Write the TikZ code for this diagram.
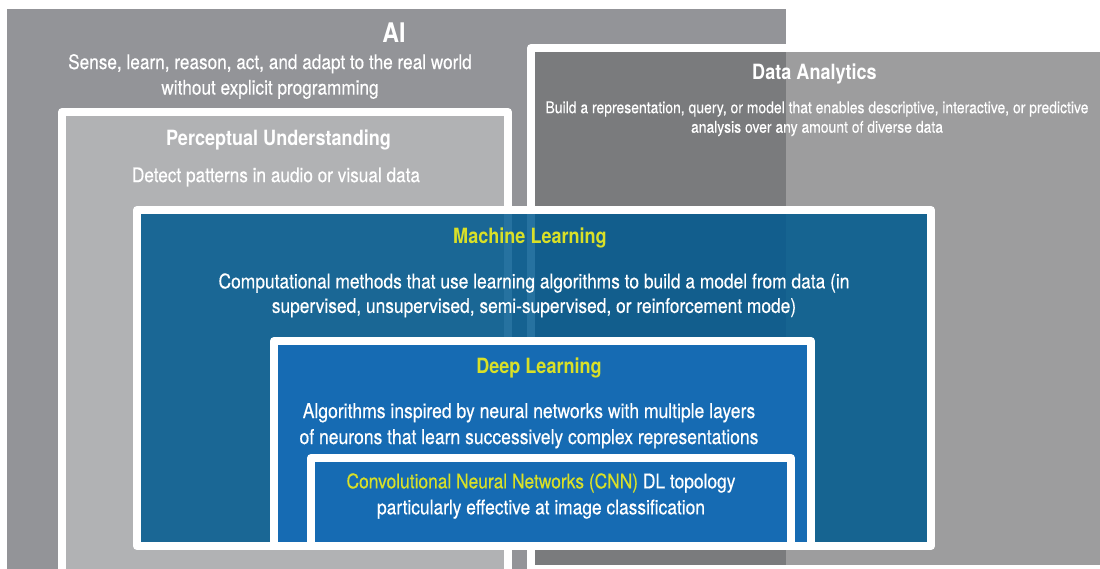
\documentclass[tikz,border=0pt]{standalone}
\usepackage{fontspec}
\setmainfont{TeX Gyre Heros}[FakeStretch=0.86, UprightFeatures={FakeBold=0.35}]
\definecolor{aigray}{RGB}{147,148,152}
\definecolor{percgray}{RGB}{177,178,180}
\definecolor{dagray}{RGB}{112,112,114}
\definecolor{mlblue}{RGB}{0,90,144}
\definecolor{dlblue}{RGB}{22,107,179}
\definecolor{ylw}{RGB}{217,224,40}
\begin{document}
\begin{tikzpicture}[x=1pt,y=-1pt,
  panel/.style={draw=white, line width=8pt, line join=round},
  ttl/.style={text=white, font=\bfseries\fontsize{21}{25}\selectfont, align=center, inner sep=0pt},
  bodytxt/.style={text=white, font=\fontsize{20.2}{25}\selectfont, align=center, inner sep=0pt}
]
\useasboundingbox (0,0) rectangle (1100,569);
% AI area
\fill[aigray] (7,9) rectangle (786,585);
% Perceptual Understanding
\draw[panel, fill=percgray] (62,112) rectangle (508,575);
% Data Analytics (translucent)
\draw[panel, fill=dagray, fill opacity=0.685] (531,48) rectangle (1110,569);
% Machine Learning (translucent)
\draw[panel, fill=mlblue, fill opacity=0.85] (137,210) rectangle (931,546);
% Deep Learning
\draw[panel, fill=dlblue] (274,341) rectangle (811,546);
% CNN
\draw[panel, fill=dlblue] (311,458) rectangle (791,546);

\node[text=white, font=\bfseries\fontsize{27}{30}\selectfont, inner sep=0pt] (aiT) at (394,32.5) {AI};
\node[bodytxt, font=\fontsize{20}{25.5}\selectfont] (aiB) at (270,76.5) {Sense, learn, reason, act, and adapt to the real world\\without explicit programming};
\node[ttl] (pT) at (278.5,140) {Perceptual Understanding};
\node[bodytxt, font=\fontsize{20}{25}\selectfont] (pB) at (276,177) {Detect patterns in audio or visual data};
\node[ttl] (daT) at (814.5,74) {Data Analytics};
\node[bodytxt, font=\fontsize{16.2}{19.5}\selectfont] (daB) at (817,118.8) {Build a representation, query, or model that enables descriptive, interactive, or predictive\\analysis over any amount of diverse data};
\node[ttl, text=ylw] (mlT) at (530,238) {Machine Learning};
\node[bodytxt, font=\fontsize{20.2}{24.5}\selectfont] (mlB) at (534,295.3) {Computational methods that use learning algorithms to build a model from data (in\\supervised, unsupervised, semi-supervised, or reinforcement mode)};
\node[ttl, text=ylw] (dlT) at (539,368) {Deep Learning};
\node[bodytxt, font=\fontsize{20.4}{26}\selectfont] (dlB) at (529,425.8) {Algorithms inspired by neural networks with multiple layers\\of neurons that learn successively complex representations};
\node[bodytxt, font=\fontsize{20.2}{26}\selectfont] (cnnB) at (541,496) {\textcolor{ylw}{Convolutional Neural Networks (CNN)} DL topology\\particularly effective at image classification};
\end{tikzpicture}
\end{document}
